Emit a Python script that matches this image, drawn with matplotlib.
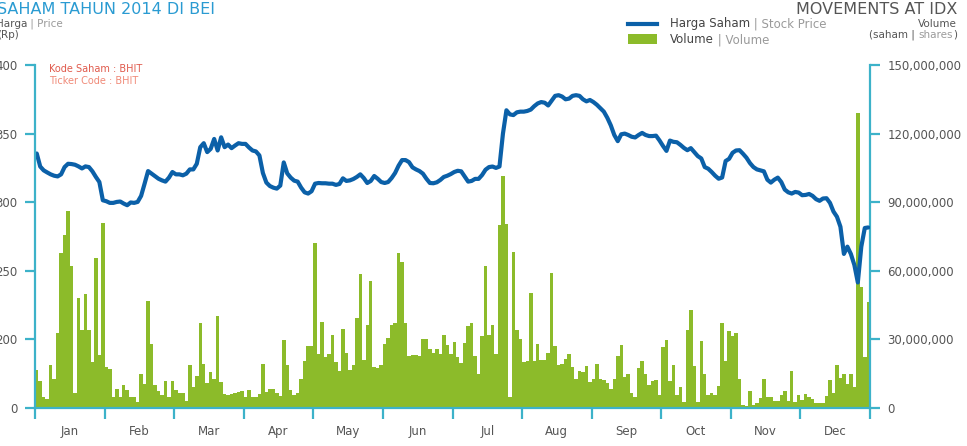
import numpy as np
import matplotlib.pyplot as plt
from matplotlib.lines import Line2D
from matplotlib.patches import Rectangle
from matplotlib.ticker import FuncFormatter

# BHIT daily data 2014, one value per trading day
months = ['Jan', 'Feb', 'Mar', 'Apr', 'May', 'Jun',
          'Jul', 'Aug', 'Sep', 'Oct', 'Nov', 'Dec']

# closing price (Rp)
price_q1 = [335.5, 326, 323.2, 321.7, 320.3, 319.3, 318.8, 320.3, 325.6, 328,
            327.8, 327.3, 326.1, 324.6, 326.1, 325.6, 322.5, 318.4, 314.7, 301.4,
            300.7, 299.5, 299.5, 300.2, 300.5, 299, 297.8, 299.8, 299.5, 300.2,
            304.6, 313.5, 322.7, 320.8, 318.8, 317.1, 315.9, 315, 317.9, 322,
            320.3, 320.3, 319.6, 320.8, 323.9, 323.9, 328, 340.1, 343, 336.5,
            338.9, 346.1, 337.7, 347.3, 340.1, 342, 339.4, 341.3, 343, 342.5]
price_q2 = [342.5, 339.9, 337.7, 337, 334.1, 321.3, 314.3, 311.8, 310.6, 309.9,
            312.1, 329, 321, 317.9, 315.7, 315, 310.6, 307.2, 306.3, 308,
            313.5, 314, 313.8, 313.8, 313.5, 313.5, 312.6, 313.3, 317.4, 315.5,
            315.9, 316.9, 318.4, 320.3, 317.6, 314, 315.5, 319.1, 317.1, 314.7,
            314, 314.7, 317.6, 321.3, 326.6, 330.7, 330.7, 329.2, 325.4, 323.9,
            322.7, 320.8, 317.1, 314, 313.8, 314.5, 316.2, 318.4, 319.3, 320.5, 322]
price_q3 = [322.9, 322.5, 318.8, 315, 315.5, 317, 317, 319.8, 323.7, 325.6,
            326, 325, 326, 350, 367, 364, 363.5, 365.5, 366, 366,
            366.5, 367.5, 370, 372, 373, 372.5, 370.5, 374, 377.5, 378,
            377, 375, 375.5, 377.5, 378, 377.5, 375, 373.5, 374.5, 373,
            371, 368.5, 366, 361.5, 356, 349, 344.5, 349.5, 350, 349,
            347.7, 347.2, 349, 350.5, 349, 348.2, 348.2, 348.5, 345, 341]
price_q4 = [337.4, 344.9, 344, 343.7, 341.8, 339.6, 337.9, 339.4, 336.5, 333.6,
            331.9, 325.6, 324.4, 322, 319.3, 317.1, 318, 330, 331.6, 336,
            337.7, 337.9, 335.3, 332.4, 328.5, 325.6, 323.9, 323.2, 322.5, 316.4,
            314.3, 316.4, 317.9, 314.7, 309.2, 307.2, 306.3, 307.5, 307, 305.1,
            305.3, 306, 304.6, 302.2, 301, 302.7, 302.9, 299.5, 293.2, 289.4,
            282.1, 262.3, 267.6, 262.3, 254.3, 241.5, 267.6, 281.2, 281.6]

# volume (million shares)
vol_q1 = [16.8, 11.7, 5, 3.8, 18.7, 12.5, 33, 68, 75.5, 86,
          62, 6.4, 48, 34, 50, 34, 20, 65.5, 23, 81,
          18, 17, 5, 8.5, 5, 10, 7.8, 5, 5, 2.8,
          14.8, 10.4, 47, 28, 10, 7.5, 5.6, 11.9, 5, 11.9,
          7.8, 6.4, 6.7, 3.2, 18.7, 9.3, 14, 37, 19.4, 11,
          15.8, 12.9, 40.4, 11.4, 6, 5.6, 6, 6.7, 7, 7.5]
vol_q2 = [5, 8, 5, 5, 6, 19.4, 7, 8.5, 8.5, 6.4,
          5.2, 29.6, 19, 7.8, 5.6, 6.4, 12.5, 20.4, 27, 27,
          72, 23.8, 37.5, 22.3, 23.5, 32, 20, 16, 34.6, 24,
          16.8, 19, 39.4, 58.5, 21, 36.5, 55.5, 18, 17.5, 18.7,
          27.8, 30.7, 36.4, 37, 68, 64, 37, 22.6, 23, 23.3,
          22.6, 30.3, 30, 25.7, 24.2, 26, 23.8, 32, 27.4, 23.8, 28.8]
vol_q3 = [22.3, 19.7, 28.4, 35.8, 37.2, 22.6, 14.8, 31.4, 61.9, 32,
          36.5, 23.8, 79.9, 101.3, 80.6, 5, 68.4, 34, 30, 20.1,
          20.4, 50.3, 20.4, 28.1, 21.2, 21.2, 24.2, 59, 27.1, 18.7,
          19.4, 21.6, 23.8, 18, 12.6, 16.2, 15.8, 18.4, 11.4, 12.9,
          19.4, 12.9, 12.2, 11, 8.1, 12.5, 22.8, 27.7, 13.6, 15,
          6.7, 5, 17.7, 20.6, 14.8, 10, 11.7, 12.2, 5.6, 26.7]
vol_q4 = [29.9, 11.7, 18.7, 5.6, 9.3, 2.8, 34.3, 43, 18.4, 2.8,
          29.3, 15, 5.6, 6.4, 5.6, 9.6, 37.2, 20.6, 33.5, 31.4,
          32.9, 12.9, 1.3, 0.9, 7.5, 1.3, 2, 4.2, 12.5, 4.6,
          4.9, 3, 3, 5.6, 7.4, 3.2, 16.1, 2.8, 5.6, 3.5,
          6, 4.6, 3.8, 2, 2.3, 2.3, 5.4, 12.2, 6.7, 18.7,
          13.3, 14.8, 10.7, 14.8, 9, 128.8, 52.8, 22.3, 46.2]

# price axis is broken: bottom tick reads 0, the rest run 200..400
price_ticks = [150, 200, 250, 300, 350, 400]
price_labels = ['0', '200', '250', '300', '350', '400']
vol_ticks = [0, 30e6, 60e6, 90e6, 120e6, 150e6]

TEAL = '#3cb2c9'
BLUE = '#0b60a8'
GREEN = '#8cbb2a'
DARK = '#555555'
LIGHT = '#9a9a9a'

price = np.array(price_q1 + price_q2 + price_q3 + price_q4)
volume = np.array(vol_q1 + vol_q2 + vol_q3 + vol_q4) * 1e6
n = len(price)
x = np.arange(n) + 0.5

W, H = 967, 446
fig = plt.figure(figsize=(W / 100, H / 100), dpi=100)
ax = fig.add_axes([35 / W, 1 - 408 / H, (870 - 35) / W, (408 - 65) / H])
ax2 = ax.twinx()

ax2.bar(x, volume, width=1.0, color=GREEN, linewidth=0)
ax.plot(x, price, color=BLUE, lw=3, solid_joinstyle='round', solid_capstyle='round')
ax.set_zorder(ax2.get_zorder() + 1)
ax.patch.set_visible(False)

ax.set_xlim(0, n)
ax.set_ylim(150, 400)
ax2.set_ylim(0, 150e6)

for s in ['top', 'right']:
    ax.spines[s].set_visible(False)
for s in ['top', 'left', 'bottom']:
    ax2.spines[s].set_visible(False)
for a, s in [(ax, 'left'), (ax, 'bottom'), (ax2, 'right')]:
    a.spines[s].set_color(TEAL)
    a.spines[s].set_linewidth(1.6)

ax.set_yticks(price_ticks)
ax.set_yticklabels(price_labels)
ax2.set_yticks(vol_ticks)
ax2.yaxis.set_major_formatter(FuncFormatter(lambda v, p: f'{int(v):,}'))
for a in (ax, ax2):
    a.tick_params(axis='y', length=7.5, width=1.6, color=TEAL,
                  labelcolor=DARK, labelsize=8.5, pad=5)

# month boundaries as tick marks, month names centred between them
ax.set_xticks(np.linspace(0, n, 13))
ax.set_xticklabels([])
ax.set_xticks((np.arange(12) + 0.5) * n / 12, minor=True)
ax.set_xticklabels(months, minor=True)
ax.tick_params(axis='x', which='major', length=8, width=1.6, color=TEAL)
ax.tick_params(axis='x', which='minor', length=0, pad=12,
               labelcolor=DARK, labelsize=8.5)

# overlay in pixel coordinates for headers and legend
ov = fig.add_axes([0, 0, 1, 1])
ov.set_xlim(0, W)
ov.set_ylim(H, 0)
ov.axis('off')


def chain(prev, txt, color, side='right'):
    if side == 'right':
        return ov.annotate(txt, xy=(1, 0), xycoords=prev, va='bottom', ha='left',
                           fontsize=prev.get_fontsize(), color=color)
    return ov.annotate(txt, xy=(0, 0), xycoords=prev, va='bottom', ha='right',
                       fontsize=prev.get_fontsize(), color=color)


ov.text(-3, 13.5, 'SAHAM TAHUN 2014 DI BEI', fontsize=11.5, color='#2a9bd2',
        va='baseline', ha='left')
ov.text(957, 13.5, 'MOVEMENTS AT IDX', fontsize=11.5, color=DARK,
        va='baseline', ha='right')

t = ov.text(-4, 27, 'Harga', fontsize=7.5, color=DARK, va='baseline')
chain(t, ' | Price', LIGHT)
ov.text(-3, 37.5, '(Rp)', fontsize=7.5, color=DARK, va='baseline')

ov.text(957, 27, 'Volume', fontsize=7.5, color=DARK, va='baseline', ha='right')
t = ov.text(957, 37.5, ')', fontsize=7.5, color=DARK, va='baseline', ha='right')
t = chain(t, 'shares', LIGHT, side='left')
chain(t, '(saham | ', DARK, side='left')

# legend
ov.add_line(Line2D([628, 657], [23.5, 23.5], color=BLUE, lw=3))
ov.add_patch(Rectangle((628, 34), 29, 10, color=GREEN, lw=0))
t = ov.text(670, 27.5, 'Harga Saham', fontsize=8.5, color='#444444', va='baseline')
chain(t, ' | Stock Price', LIGHT)
t = ov.text(670, 43, 'Volume', fontsize=8.5, color='#444444', va='baseline')
chain(t, ' | Volume', LIGHT)

ov.text(49, 72.5, 'Kode Saham : BHIT', fontsize=7, color='#e05a4c', va='baseline')
ov.text(49, 84, 'Ticker Code : BHIT', fontsize=7, color='#f08a78', va='baseline')

fig.savefig('out.png', dpi=100)
